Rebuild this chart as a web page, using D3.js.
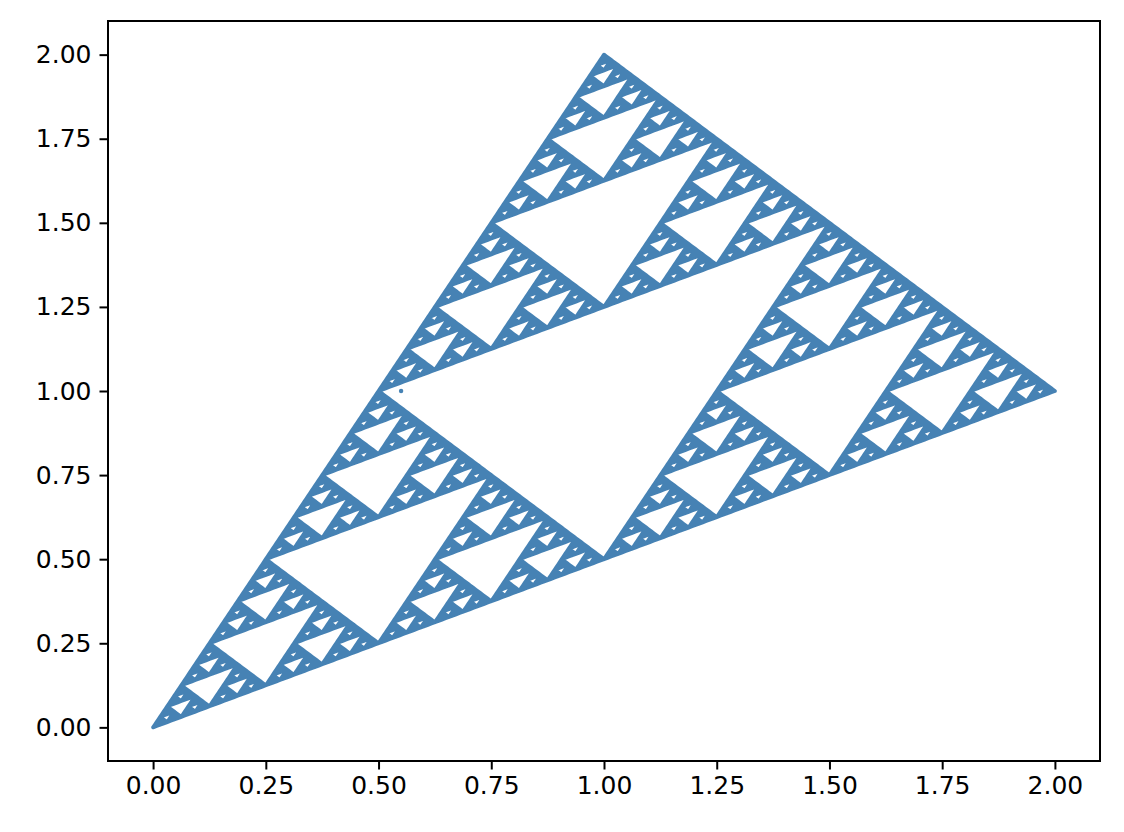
<!DOCTYPE html>
<html><head><meta charset="utf-8">
<script src="https://cdn.jsdelivr.net/npm/d3@7"></script>
<style>body{margin:0;background:#fff}svg{display:block}</style>
</head><body>
<svg id="c" width="1124" height="832"></svg>
<script>
// Sierpinski attractor vertices (chaos game corners) and the starting point
const vertices = [[0, 0], [1, 2], [2, 1]];
const seedPoint = [0.55, 1.0];
const subdivisionDepth = 8;
const xTicks = [0, 0.25, 0.5, 0.75, 1.0, 1.25, 1.5, 1.75, 2.0];
const yTicks = [0, 0.25, 0.5, 0.75, 1.0, 1.25, 1.5, 1.75, 2.0];
const xDomain = [-0.1, 2.1];
const yDomain = [-0.1, 2.1];

const W = 1124, H = 832;
const m = {left: 108, right: 1100, top: 21, bottom: 761};
const color = "#4682b4";
const svg = d3.select("#c");
const x = d3.scaleLinear().domain(xDomain).range([m.left, m.right]);
const y = d3.scaleLinear().domain(yDomain).range([m.bottom, m.top]);

// Build the attractor by recursive subdivision
const tris = [];
function sub(a, b, c, d) {
  if (d === 0) { tris.push([a, b, c]); return; }
  const ab = [(a[0]+b[0])/2, (a[1]+b[1])/2];
  const bc = [(b[0]+c[0])/2, (b[1]+c[1])/2];
  const ca = [(c[0]+a[0])/2, (c[1]+a[1])/2];
  sub(a, ab, ca, d-1);
  sub(ab, b, bc, d-1);
  sub(ca, bc, c, d-1);
}
sub(vertices[0], vertices[1], vertices[2], subdivisionDepth);

const p = d3.path();
for (const t of tris) {
  p.moveTo(x(t[0][0]), y(t[0][1]));
  p.lineTo(x(t[1][0]), y(t[1][1]));
  p.lineTo(x(t[2][0]), y(t[2][1]));
  p.closePath();
}
svg.append("path").attr("d", p.toString())
  .attr("fill", color).attr("stroke", color)
  .attr("stroke-width", 3.8).attr("stroke-linejoin", "round");

svg.append("circle").attr("cx", x(seedPoint[0])).attr("cy", y(seedPoint[1]))
  .attr("r", 2.2).attr("fill", color);

// Axes
const fmt = d3.format(".2f");
const gx = svg.append("g").attr("transform", `translate(0,${m.bottom})`)
  .call(d3.axisBottom(x).tickValues(xTicks).tickFormat(fmt).tickSize(8.5).tickSizeOuter(0).tickPadding(7));
const gy = svg.append("g").attr("transform", `translate(${m.left},0)`)
  .call(d3.axisLeft(y).tickValues(yTicks).tickFormat(fmt).tickSize(8.5).tickSizeOuter(0).tickPadding(8));
for (const g of [gx, gy]) {
  g.select(".domain").remove();
  g.selectAll(".tick line").attr("stroke", "#000").attr("stroke-width", 2);
  g.selectAll(".tick text").attr("fill", "#000")
    .style("font-family", "DejaVu Sans").style("font-size", "25px");
}
svg.append("rect").attr("x", m.left).attr("y", m.top)
  .attr("width", m.right - m.left).attr("height", m.bottom - m.top)
  .attr("fill", "none").attr("stroke", "#000").attr("stroke-width", 2);
</script>
</body></html>
